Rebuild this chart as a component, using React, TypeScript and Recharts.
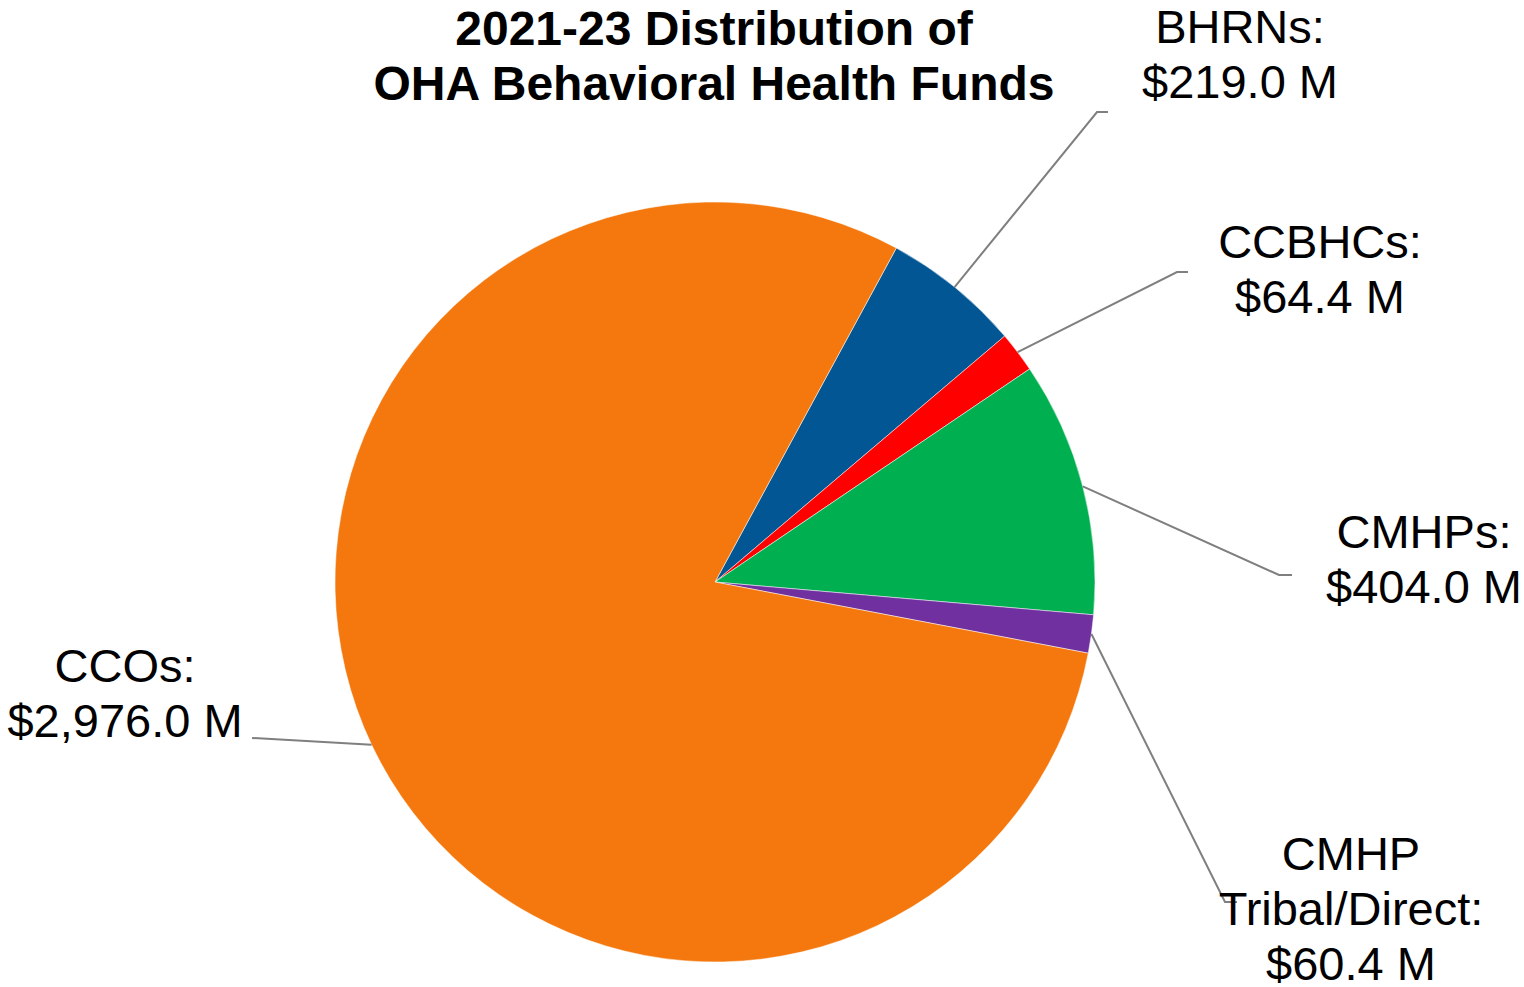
import { Cell, Pie, PieChart } from "recharts";

const CATEGORIES = ["BHRNs", "CCBHCs", "CMHPs", "CMHP Tribal/Direct", "CCOs"];
const FUNDS_M = [219.0, 64.4, 404.0, 60.4, 2976.0];
const LABEL_NAMES = [["BHRNs:"], ["CCBHCs:"], ["CMHPs:"], ["CMHP", "Tribal/Direct:"], ["CCOs:"]];
const COLORS = ["#035694", "#FF0000", "#00AF50", "#7030A0", "#F4780E"];
const TITLE_LINES = ["2021-23 Distribution of", "OHA Behavioral Health Funds"];

// where each label sits (text centre + first baseline) and where its leader bends
const LABEL_LAYOUT = [
  { tx: 1240, ty: 43, ex: 1097, ey: 112, sx: 1108 },
  { tx: 1320, ty: 258, ex: 1177, ey: 272, sx: 1188 },
  { tx: 1424, ty: 548, ex: 1279, ey: 575, sx: 1292 },
  { tx: 1351, ty: 870, ex: 1225, ey: 902, sx: 1237 },
  { tx: 125, ty: 682, ex: 252, ey: 738, sx: 252 },
];

const FONT = "'Liberation Sans', Arial, Helvetica, sans-serif";
const RAD = Math.PI / 180;
const LINE_H = 55;

const data = CATEGORIES.map((name, i) => ({ name, value: FUNDS_M[i] }));

const fmt = (v: number) =>
  "$" + v.toLocaleString("en-US", { minimumFractionDigits: 1, maximumFractionDigits: 1 }) + " M";

function renderLabel(props: any) {
  const { cx, cy, midAngle, outerRadius, index } = props;
  const lay = LABEL_LAYOUT[index];
  const x0 = cx + outerRadius * Math.cos(-midAngle * RAD);
  const y0 = cy + outerRadius * Math.sin(-midAngle * RAD);
  const lines = [...LABEL_NAMES[index], fmt(FUNDS_M[index])];
  return (
    <g key={`lbl-${index}`}>
      <polyline
        points={`${x0},${y0} ${lay.ex},${lay.ey} ${lay.sx},${lay.ey}`}
        fill="none"
        stroke="#7f7f7f"
        strokeWidth={2}
      />
      <text x={lay.tx} y={lay.ty} textAnchor="middle" fontFamily={FONT} fontSize={47} fill="#000">
        {lines.map((l, j) => (
          <tspan key={j} x={lay.tx} y={lay.ty + j * LINE_H}>
            {l}
          </tspan>
        ))}
      </text>
    </g>
  );
}

export default function App() {
  return (
    <div style={{ position: "absolute", left: 0, top: 0, width: 1524, height: 987, background: "#fff" }}>
      <PieChart width={1524} height={987} margin={{ top: 0, right: 0, bottom: 0, left: 0 }}>
        <Pie
          data={data}
          dataKey="value"
          nameKey="name"
          cx={715}
          cy={582}
          outerRadius={380}
          startAngle={61.5}
          endAngle={-298.5}
          stroke="#ffffff"
          strokeWidth={0.5}
          label={renderLabel}
          labelLine={false}
          isAnimationActive={false}
        >
          {data.map((d, i) => (
            <Cell key={`cell-${i}`} fill={COLORS[i]} />
          ))}
        </Pie>
      </PieChart>
      <svg
        width={1524}
        height={987}
        style={{ position: "absolute", left: 0, top: 0, pointerEvents: "none" }}
      >
        {TITLE_LINES.map((t, i) => (
          <text
            key={i}
            x={714}
            y={45 + i * 55}
            textAnchor="middle"
            fontFamily={FONT}
            fontWeight="bold"
            fontSize={48}
            fill="#000"
          >
            {t}
          </text>
        ))}
      </svg>
    </div>
  );
}
